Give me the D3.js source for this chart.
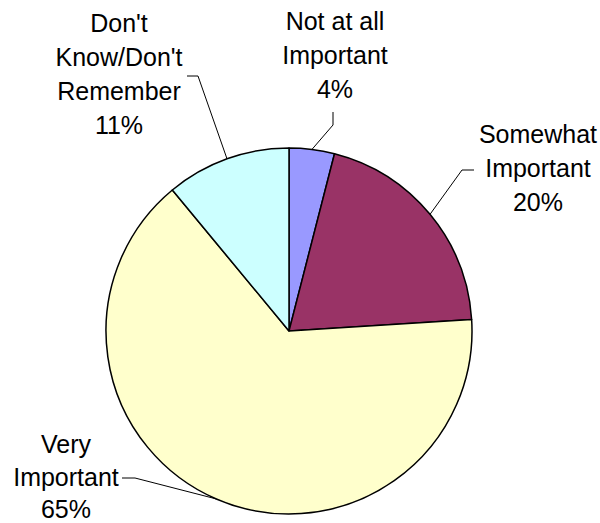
<!DOCTYPE html>
<html>
<head>
<meta charset="utf-8">
<script src="https://cdn.jsdelivr.net/npm/d3@7"></script>
<style>
  html, body { margin: 0; padding: 0; background: #fff; }
  svg text { font-family: "Liberation Sans", Arial, sans-serif; font-size: 25px; fill: #000; }
</style>
</head>
<body>
<svg id="chart" width="600" height="523"></svg>
<script>
// Survey responses on importance
const categories = ["Not at all Important", "Somewhat Important", "Very Important", "Don't Know/Don't Remember"];
const values = [4, 20, 65, 11];
const colors = ["#9999FF", "#993366", "#FFFFCC", "#CCFFFF"];

// Label text lines (category words + percentage)
const labelLines = [
  ["Not at all", "Important", "4%"],
  ["Somewhat", "Important", "20%"],
  ["Very", "Important", "65%"],
  ["Don't", "Know/Don't", "Remember", "11%"]
];

// Label placement: text centre x, first baseline y, line spacing, leader start and elbow
const labelLayout = [
  { x: 335, y: 30,  dy: 34, start: [333, 112], elbow: [333, 125] },
  { x: 538, y: 143, dy: 34, start: [474, 170], elbow: [462, 170] },
  { x: 66,  y: 453, dy: 32.5, start: [122, 478], elbow: [135, 478] },
  { x: 119, y: 32,  dy: 34, start: [187, 76],  elbow: [198, 76] }
];

const cx = 289, cy = 331, radius = 183;
const svg = d3.select("#chart");
const g = svg.append("g").attr("transform", `translate(${cx},${cy})`);

const pie = d3.pie().sort(null).value(d => d);
const arcs = pie(values);
const arc = d3.arc().innerRadius(0).outerRadius(radius);

g.selectAll("path.slice")
  .data(arcs)
  .enter().append("path")
  .attr("class", "slice")
  .attr("d", arc)
  .attr("fill", (d, i) => colors[i])
  .attr("stroke", "#000")
  .attr("stroke-width", 1.5)
  .attr("stroke-linejoin", "round");

// Leader lines from each label to the middle of its slice's rim
arcs.forEach((a, i) => {
  const mid = (a.startAngle + a.endAngle) / 2;
  const ex = cx + radius * Math.sin(mid);
  const ey = cy - radius * Math.cos(mid);
  const L = labelLayout[i];
  svg.append("polyline")
    .attr("points", [L.start, L.elbow, [ex, ey]].map(p => p.join(",")).join(" "))
    .attr("fill", "none")
    .attr("stroke", "#000")
    .attr("stroke-width", 1);
});

// Labels
labelLines.forEach((lines, i) => {
  const L = labelLayout[i];
  const t = svg.append("text").attr("text-anchor", "middle");
  lines.forEach((s, j) => {
    t.append("tspan").attr("x", L.x).attr("y", L.y + j * L.dy).text(s);
  });
});
</script>
</body>
</html>
